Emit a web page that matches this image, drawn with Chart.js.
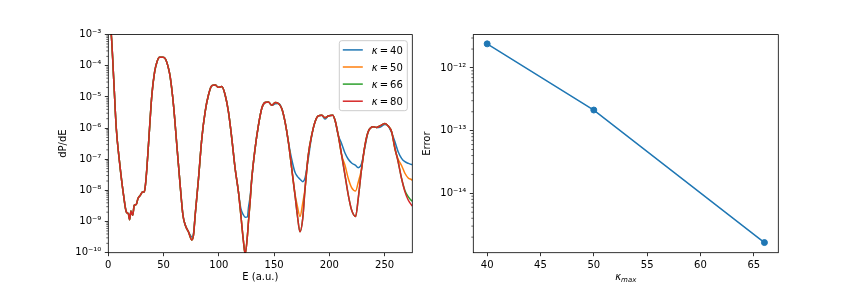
<!DOCTYPE html>
<html>
<head>
<meta charset="utf-8">
<script src="https://cdn.jsdelivr.net/npm/chart.js@4.4.0/dist/chart.umd.min.js"></script>
<style>
html, body { margin: 0; padding: 0; background: #fff; }
#wrap { position: relative; width: 864px; height: 288px; overflow: hidden; }
#left { position: absolute; left: 0; top: 0; }
#right { position: absolute; left: 420px; top: 0; }
</style>
</head>
<body>
<div id="wrap">
  <canvas id="left" width="432" height="288"></canvas>
  <canvas id="right" width="444" height="288"></canvas>
</div>
<script>
// ---- données ----
// panneau gauche : dP/dE en fonction de E (a.u.)
const energy = [
  0, 2.7, 5, 7.2, 10.2, 13.8, 16.3, 18.1, 19.3, 20.5,
  22.0, 23.5, 25.3, 26.8, 28.9, 31.0, 32.5, 33.4, 34.9, 37.3,
  39.4, 41.9, 44, 46.4, 49.4, 51.8, 54.5, 56, 59, 62,
  65, 67.5, 69.6, 72.5, 75.6, 77.1, 78.6, 81.6, 84.6, 87.6,
  90.6, 93.7, 96.7, 99.6, 102.7, 105.7, 108.7, 111.7, 114.7, 117.7,
  119.9, 122.3, 123.8, 125.9, 126.8, 128.3, 129.8, 132.8, 135.8, 138.8,
  141.8, 144.8, 147.9, 150.9, 153.9, 156.9, 159.9, 162.9, 165.9, 168.9,
  171.0, 173.4, 175.9, 178.0, 180.9, 184.0, 187.0, 190.0, 193.0, 196.0,
  199.0, 203.0, 205.1, 208.0, 211.1, 214.1, 217.1, 220.1, 223.7, 226.1,
  229.2, 232.2, 235.1, 239.7, 242.7, 245.7, 250.2, 253.2, 256.3, 259.3,
  262.2, 265.3, 268.3, 271.3, 274.3, 275
];

const k40 = [
  5.0e-3, 1.0e-3, 3.16e-5, 1.0e-6, 7.94e-8, 7.08e-9, 2.04e-9, 1.78e-9, 1.15e-9, 2.19e-9,
  1.58e-9, 3.31e-9, 3.55e-9, 5.37e-9, 6.92e-9, 8.91e-9, 8.91e-9, 1.29e-8, 5.13e-8, 9.77e-7,
  1.15e-5, 6.31e-5, 1.32e-4, 1.86e-4, 1.86e-4, 1.62e-4, 8.13e-5, 4.37e-5, 5.37e-6, 2.82e-7,
  1.48e-8, 1.62e-9, 7.76e-10, 4.68e-10, 3.2e-10, 4.2e-10, 1.62e-9, 2.40e-8, 4.68e-7, 3.31e-6,
  1.15e-5, 2.29e-5, 2.40e-5, 2.04e-5, 2.14e-5, 1.15e-5, 3.31e-6, 4.68e-7, 5.13e-8, 9.12e-9,
  2.63e-9, 1.62e-9, 1.38e-9, 1.41e-9, 2.82e-9, 6.31e-9, 2.40e-8, 2.24e-7, 1.23e-6, 4.27e-6,
  6.61e-6, 6.92e-6, 5.37e-6, 6.0e-6, 6.17e-6, 4.27e-6, 1.58e-6, 3.63e-7, 1.0e-7, 3.80e-8,
  2.82e-8, 2.29e-8, 1.91e-8, 2.51e-8, 1.05e-7, 5.6e-7, 1.58e-6, 2.45e-6, 2.57e-6, 1.95e-6,
  2.45e-6, 2.6e-6, 1.78e-6, 5.89e-7, 3.16e-7, 1.58e-7, 1.0e-7, 7.59e-8, 6.31e-8, 5.37e-8,
  7.41e-8, 2.51e-7, 7.59e-7, 1.10e-6, 1.05e-6, 1.07e-6, 1.3e-6, 1.17e-6, 7.08e-7, 3.63e-7,
  1.74e-7, 1.07e-7, 8.32e-8, 7.41e-8, 6.76e-8, 6.7e-8
];

const k50 = [
  5.0e-3, 1.0e-3, 3.16e-5, 1.0e-6, 7.94e-8, 7.08e-9, 2.04e-9, 1.78e-9, 1.15e-9, 2.19e-9,
  1.58e-9, 3.31e-9, 3.55e-9, 5.37e-9, 6.92e-9, 8.91e-9, 8.91e-9, 1.29e-8, 5.13e-8, 9.77e-7,
  1.15e-5, 6.31e-5, 1.32e-4, 1.86e-4, 1.86e-4, 1.62e-4, 8.13e-5, 4.37e-5, 5.37e-6, 2.82e-7,
  1.48e-8, 1.62e-9, 7.76e-10, 4.68e-10, 2.57e-10, 3.72e-10, 1.62e-9, 2.40e-8, 4.68e-7, 3.31e-6,
  1.15e-5, 2.29e-5, 2.40e-5, 2.04e-5, 2.14e-5, 1.15e-5, 3.31e-6, 4.68e-7, 5.13e-8, 9.12e-9,
  1.62e-9, 2.24e-10, 8.91e-11, 3.72e-10, 1.0e-9, 4.37e-9, 2.40e-8, 2.24e-7, 1.23e-6, 4.27e-6,
  6.61e-6, 6.92e-6, 5.37e-6, 6.61e-6, 6.17e-6, 4.27e-6, 1.58e-6, 3.63e-7, 5.13e-8, 7.59e-9,
  3.16e-9, 1.45e-9, 3.98e-9, 1.15e-8, 1.35e-7, 5.89e-7, 1.58e-6, 2.45e-6, 2.57e-6, 2.14e-6,
  2.45e-6, 2.6e-6, 1.78e-6, 5.89e-7, 1.35e-7, 6.46e-8, 2.40e-8, 1.23e-8, 9.55e-9, 1.82e-8,
  5.13e-8, 2.82e-7, 7.59e-7, 1.10e-6, 1.05e-6, 1.17e-6, 1.41e-6, 1.17e-6, 7.59e-7, 2.09e-7,
  1.0e-7, 6.31e-8, 3.55e-8, 2.51e-8, 2.2e-8, 2.1e-8
];

const k66 = [
  5.0e-3, 1.0e-3, 3.16e-5, 1.0e-6, 7.94e-8, 7.08e-9, 2.04e-9, 1.78e-9, 1.15e-9, 2.19e-9,
  1.58e-9, 3.31e-9, 3.55e-9, 5.37e-9, 6.92e-9, 8.91e-9, 8.91e-9, 1.29e-8, 5.13e-8, 9.77e-7,
  1.15e-5, 6.31e-5, 1.32e-4, 1.86e-4, 1.86e-4, 1.62e-4, 8.13e-5, 4.37e-5, 5.37e-6, 2.82e-7,
  1.48e-8, 1.62e-9, 7.76e-10, 4.68e-10, 2.57e-10, 3.72e-10, 1.62e-9, 2.40e-8, 4.68e-7, 3.31e-6,
  1.15e-5, 2.29e-5, 2.40e-5, 2.04e-5, 2.14e-5, 1.15e-5, 3.31e-6, 4.68e-7, 5.13e-8, 9.12e-9,
  1.62e-9, 2.24e-10, 8.91e-11, 3.72e-10, 1.0e-9, 4.37e-9, 2.40e-8, 2.24e-7, 1.23e-6, 4.27e-6,
  6.61e-6, 6.92e-6, 5.37e-6, 6.61e-6, 6.17e-6, 4.27e-6, 1.58e-6, 3.63e-7, 5.13e-8, 7.08e-9,
  1.62e-9, 4.68e-10, 1.26e-9, 1.15e-8, 1.35e-7, 5.89e-7, 1.58e-6, 2.45e-6, 2.57e-6, 2.14e-6,
  2.45e-6, 2.6e-6, 1.78e-6, 5.89e-7, 1.35e-7, 3.09e-8, 7.08e-9, 2.34e-9, 1.45e-9, 5.50e-9,
  5.13e-8, 2.82e-7, 7.59e-7, 1.10e-6, 1.05e-6, 1.17e-6, 1.41e-6, 1.17e-6, 7.59e-7, 2.24e-7,
  8.32e-8, 2.40e-8, 1.0e-8, 6.3e-9, 4.7e-9, 4.5e-9
];

const k80 = [
  5.0e-3, 1.0e-3, 3.16e-5, 1.0e-6, 7.94e-8, 7.08e-9, 2.04e-9, 1.78e-9, 1.15e-9, 2.19e-9,
  1.58e-9, 3.31e-9, 3.55e-9, 5.37e-9, 6.92e-9, 8.91e-9, 8.91e-9, 1.29e-8, 5.13e-8, 9.77e-7,
  1.15e-5, 6.31e-5, 1.32e-4, 1.86e-4, 1.86e-4, 1.62e-4, 8.13e-5, 4.37e-5, 5.37e-6, 2.82e-7,
  1.48e-8, 1.62e-9, 7.76e-10, 4.68e-10, 2.57e-10, 3.72e-10, 1.62e-9, 2.40e-8, 4.68e-7, 3.31e-6,
  1.15e-5, 2.29e-5, 2.40e-5, 2.04e-5, 2.14e-5, 1.15e-5, 3.31e-6, 4.68e-7, 5.13e-8, 9.12e-9,
  1.62e-9, 2.24e-10, 8.91e-11, 3.72e-10, 1.0e-9, 4.37e-9, 2.40e-8, 2.24e-7, 1.23e-6, 4.27e-6,
  6.61e-6, 6.92e-6, 5.37e-6, 6.61e-6, 6.17e-6, 4.27e-6, 1.58e-6, 3.63e-7, 5.13e-8, 7.08e-9,
  1.62e-9, 4.68e-10, 1.26e-9, 1.15e-8, 1.35e-7, 5.89e-7, 1.58e-6, 2.45e-6, 2.57e-6, 2.14e-6,
  2.45e-6, 2.6e-6, 1.78e-6, 5.89e-7, 1.35e-7, 3.09e-8, 7.08e-9, 2.34e-9, 1.45e-9, 5.50e-9,
  5.13e-8, 2.82e-7, 7.59e-7, 1.10e-6, 1.05e-6, 1.17e-6, 1.41e-6, 1.17e-6, 7.59e-7, 2.24e-7,
  8.32e-8, 2.40e-8, 9.12e-9, 4.90e-9, 3.39e-9, 3.16e-9
];

const kappaLabels = ['40', '50', '66', '80'];
const kappaColors = ['#1f77b4', '#ff7f0e', '#2ca02c', '#d62728'];

const leftXTicks = [0, 50, 100, 150, 200, 250];
const leftYTicks = [1e-10, 1e-9, 1e-8, 1e-7, 1e-6, 1e-5, 1e-4, 1e-3];

// panneau droit : erreur en fonction de kappa max
const kappaMax = [40, 50, 66];
const errorVals = [2.42e-12, 2.13e-13, 1.64e-15];

const rightXTicks = [40, 45, 50, 55, 60, 65];
const rightYTicks = [1e-14, 1e-13, 1e-12];

// ---- utilitaires ----
const FONT = 'DejaVu Sans';
const SUP = {'-': '\u207B', '0': '\u2070', '1': '\u00B9', '2': '\u00B2', '3': '\u00B3',
  '4': '\u2074', '5': '\u2075', '6': '\u2076', '7': '\u2077', '8': '\u2078', '9': '\u2079'};

function puissance(v){
  const e = String(Math.round(Math.log10(v)));
  return '10' + e.split('').map(c => SUP[c]).join('');
}

function mineurs(min, max){
  const out = [];
  for (let d = Math.floor(Math.log10(min)); d <= Math.ceil(Math.log10(max)); d++){
    for (let m = 2; m <= 9; m++){
      const v = m * Math.pow(10, d);
      if (v >= min && v <= max) out.push(v);
    }
  }
  return out;
}

function fixWidth(w){ return function(s){ s.width = w; }; }
function fixHeight(h){ return function(s){ s.height = h; }; }

function kappaText(ctx, x, y, rest){
  // kappa en italique puis le reste en droit
  ctx.textAlign = 'left';
  ctx.font = 'italic 10px "' + FONT + '"';
  const wk = ctx.measureText('\u03BA').width;
  ctx.fillText('\u03BA', x, y);
  ctx.font = '10px "' + FONT + '"';
  ctx.fillText(rest, x + wk, y);
}

// plugin du cadre, des petites graduations, des titres d'axes et de la légende
const habillage = {
  id: 'habillage',
  afterDraw(chart, args, o){
    const {ctx, chartArea: a} = chart;
    const ys = chart.scales.y;
    ctx.save();
    ctx.strokeStyle = '#000';
    ctx.lineWidth = 0.8;
    ctx.strokeRect(a.left, a.top, a.right - a.left, a.bottom - a.top);

    ctx.lineWidth = 0.6;
    o.minor.forEach(v => {
      const py = ys.getPixelForValue(v);
      ctx.beginPath();
      ctx.moveTo(a.left - 2, py);
      ctx.lineTo(a.left, py);
      ctx.stroke();
    });

    ctx.fillStyle = '#000';
    ctx.textBaseline = 'middle';
    // titre y
    ctx.save();
    ctx.translate(o.yTitleX, (a.top + a.bottom) / 2);
    ctx.rotate(-Math.PI / 2);
    ctx.textAlign = 'center';
    ctx.font = '10px "' + FONT + '"';
    ctx.fillText(o.yTitle, 0, 0);
    ctx.restore();

    // titre x
    const cx = (a.left + a.right) / 2;
    if (o.xTitle === 'kmax'){
      ctx.textBaseline = 'alphabetic';
      ctx.font = 'italic 10px "' + FONT + '"';
      const wk = ctx.measureText('\u03BA').width;
      ctx.font = 'italic 7px "' + FONT + '"';
      const ws = ctx.measureText('max').width;
      const x0 = cx - (wk + ws) / 2;
      ctx.textAlign = 'left';
      ctx.font = 'italic 10px "' + FONT + '"';
      ctx.fillText('\u03BA', x0, o.xTitleY);
      ctx.font = 'italic 7px "' + FONT + '"';
      ctx.fillText('max', x0 + wk, o.xTitleY + 2.3);
    } else {
      ctx.textAlign = 'center';
      ctx.font = '10px "' + FONT + '"';
      ctx.fillText(o.xTitle, cx, o.xTitleY);
    }

    // légende
    if (o.legend){
      const L = o.legend;
      ctx.beginPath();
      ctx.roundRect(L.x, L.y, L.w, L.h, 2.5);
      ctx.fillStyle = 'rgba(255,255,255,0.8)';
      ctx.fill();
      ctx.strokeStyle = '#cccccc';
      ctx.lineWidth = 1;
      ctx.stroke();
      ctx.textBaseline = 'alphabetic';
      ctx.fillStyle = '#000';
      kappaLabels.forEach((lab, i) => {
        const ry = L.y + 9.2 + i * 17.1;
        ctx.strokeStyle = kappaColors[i];
        ctx.lineWidth = 1.5;
        ctx.beginPath();
        ctx.moveTo(L.x + 3.5, ry);
        ctx.lineTo(L.x + 23.5, ry);
        ctx.stroke();
        kappaText(ctx, L.x + 32.5, ry + 3.6, '\u2009=\u2009' + lab);
      });
    }
    ctx.restore();
  }
};

function axeCommun(extra, log){
  const ticks = { color: '#000', font: { family: FONT, size: 10 }, padding: 3.5, autoSkip: false, maxRotation: 0 };
  if (log) ticks.callback = v => puissance(v);
  return Object.assign({
    grid: { display: true, drawOnChartArea: false, drawTicks: true, tickLength: 3.5, tickColor: '#000', lineWidth: 0.8 },
    border: { display: false },
    ticks: ticks
  }, extra);
}

// ---- graphique gauche ----
const ordre = [3, 2, 1, 0];
new Chart(document.getElementById('left'), {
  type: 'line',
  data: {
    datasets: [k40, k50, k66, k80].map((serie, i) => ({
      label: '\u03BA = ' + kappaLabels[i],
      data: energy.map((e, j) => ({ x: e, y: serie[j] })),
      borderColor: kappaColors[i],
      backgroundColor: kappaColors[i],
      borderWidth: 1.5,
      pointRadius: 0,
      cubicInterpolationMode: 'monotone',
      order: ordre[i]
    }))
  },
  options: {
    responsive: false,
    animation: false,
    devicePixelRatio: 1,
    layout: { padding: { left: 0, top: 34.6, right: 19.7, bottom: 0 } },
    plugins: {
      legend: { display: false },
      tooltip: { enabled: false },
      habillage: {
        minor: mineurs(1e-10, 1e-3),
        yTitle: 'dP/dE', yTitleX: 63.5,
        xTitle: 'E (a.u.)', xTitleY: 277.5,
        legend: { x: 339.3, y: 40.7, w: 68, h: 70 }
      }
    },
    scales: {
      x: axeCommun({
        type: 'linear', min: 0, max: 275,
        afterBuildTicks: s => { s.ticks = leftXTicks.map(v => ({ value: v })); },
        afterFit: fixHeight(35.3)
      }),
      y: axeCommun({
        type: 'logarithmic', min: 1e-10, max: 1e-3,
        afterBuildTicks: s => { s.ticks = leftYTicks.map(v => ({ value: v })); },
        afterFit: fixWidth(108.3)
      }, true)
    }
  },
  plugins: [habillage]
});

// ---- graphique droit ----
new Chart(document.getElementById('right'), {
  type: 'line',
  data: {
    datasets: [{
      label: 'Error',
      data: kappaMax.map((k, i) => ({ x: k, y: errorVals[i] })),
      borderColor: '#1f77b4',
      backgroundColor: '#1f77b4',
      borderWidth: 1.5,
      pointRadius: 3,
      pointBorderWidth: 1,
      tension: 0
    }]
  },
  options: {
    responsive: false,
    animation: false,
    devicePixelRatio: 1,
    layout: { padding: { left: 0, top: 34.6, right: 85.7, bottom: 0 } },
    plugins: {
      legend: { display: false },
      tooltip: { enabled: false },
      habillage: {
        minor: mineurs(1.13e-15, 3.4e-12),
        yTitle: 'Error', yTitleX: 7.3,
        xTitle: 'kmax', xTitleY: 279.5
      }
    },
    scales: {
      x: axeCommun({
        type: 'linear', min: 38.7, max: 67.3,
        afterBuildTicks: s => { s.ticks = rightXTicks.map(v => ({ value: v })); },
        afterFit: fixHeight(35.3)
      }),
      y: axeCommun({
        type: 'logarithmic', min: 1.13e-15, max: 3.4e-12,
        afterBuildTicks: s => { s.ticks = rightYTicks.map(v => ({ value: v })); },
        afterFit: fixWidth(53.3)
      }, true)
    }
  },
  plugins: [habillage]
});
</script>
</body>
</html>
